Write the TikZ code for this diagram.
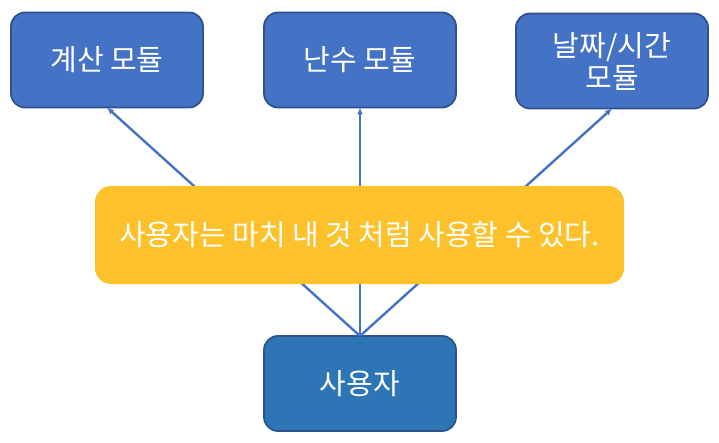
\documentclass[tikz,border=0pt]{standalone}
\usepackage{fontspec}
\setmainfont{Noto Sans CJK KR}
\usetikzlibrary{arrows.meta}
\definecolor{boxblue}{HTML}{4472C4}
\definecolor{boxedge}{HTML}{2F528F}
\definecolor{userblue}{HTML}{2E75B6}
\definecolor{gold}{RGB}{253,193,43}
\begin{document}
\begin{tikzpicture}[x=1pt,y=-1pt,
  modbox/.style={draw=boxedge,line width=1.8pt,fill=boxblue,rounded corners=14pt,
    minimum width=192pt,minimum height=95pt,text=white,font=\fontsize{29}{32}\selectfont,
    align=center,inner sep=0pt,outer sep=0pt},
  userbox/.style={modbox,fill=userblue},
  notebox/.style={fill=gold,rounded corners=16pt,minimum width=529pt,minimum height=98pt,
    text=white,font=\fontsize{29}{32}\selectfont,inner sep=0pt},
  link/.style={draw=boxblue,line width=2.4pt},
  linkarrow/.style={link,-{Latex[length=7pt,width=6pt]}}]
\useasboundingbox (0,0) rectangle (719,443);
\node[modbox] (calc) at (107,60) {계산 모듈};
\node[modbox] (rand) at (360,60) {난수 모듈};
\node[modbox] (date) at (612,61) {날짜/시간\\모듈};
\node[userbox] (user) at (360,383.5) {사용자};
\draw[linkarrow] (user.north) -- (calc.south);
\draw[linkarrow] (user.north) -- (rand.south);
\draw[linkarrow] (user.north) -- (date.south);
\node[notebox] (note) at (359.5,235) {사용자는 마치 내 것 처럼 사용할 수 있다.};
\end{tikzpicture}
\end{document}
